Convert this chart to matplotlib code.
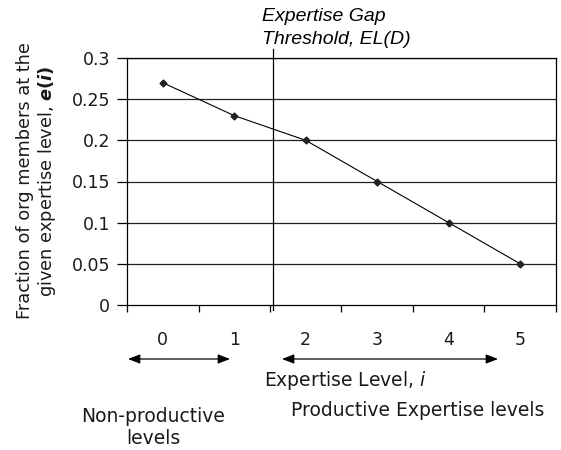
import matplotlib
matplotlib.use("Agg")
import matplotlib.pyplot as plt
import numpy as np

plt.rcParams['font.family'] = ['Liberation Sans', 'DejaVu Sans']

levels = [0, 1, 2, 3, 4, 5]
fraction = [0.27, 0.23, 0.20, 0.15, 0.10, 0.05]
y_ticks = [0, 0.05, 0.1, 0.15, 0.2, 0.25, 0.3]
y_tick_labels = ["0", "0.05", "0.1", "0.15", "0.2", "0.25", "0.3"]
threshold_level = 1.54

W, H = 561, 450
fig = plt.figure(figsize=(W / 100, H / 100), dpi=100)
ax = fig.add_axes([127 / W, 1 - 305 / H, 429 / W, 247 / H])

ax.set_xlim(-0.5, 5.5)
ax.set_ylim(0, 0.3)

wide = "DejaVu Sans"
ink = "#1a1a1a"

# horizontal gridlines
for y in y_ticks[1:]:
    ax.axhline(y, color="#222222", lw=0.9, zorder=1)

ax.plot(levels, fraction, color="black", lw=0.8, marker="D", ms=3.5,
        mfc="#222222", mec="#222222", zorder=3)

# threshold line
ax.plot([threshold_level, threshold_level], [-0.006, 0.311], color="black",
        lw=0.9, clip_on=False, zorder=2)

for s in ax.spines.values():
    s.set_linewidth(0.9)

ax.set_yticks(y_ticks)
ax.set_yticklabels(y_tick_labels, fontsize=12.5, family=wide, color=ink)
ax.tick_params(axis="y", direction="out", length=7, width=0.9, pad=5)

# category boundaries as tick marks, labels at category centres
ax.set_xticks(np.arange(-0.5, 6.0, 1.0))
ax.set_xticklabels([])
ax.tick_params(axis="x", direction="out", length=5, width=0.9)
px = 0.3 / 247
for lv in levels:
    ax.text(lv, -35 * px, str(lv), ha="center", va="center",
            fontsize=12.5, family=wide, color=ink)

fig.text(37 / W, 1 - 181 / H,
         "Fraction of org members at the\ngiven expertise level, $\\boldsymbol{e(i)}$",
         fontsize=12.8, family=wide, rotation=90, ha="center", va="center",
         linespacing=1.15, color=ink)

fig.text(262 / W, 1 - 28 / H, "Expertise Gap\nThreshold, EL(D)", fontsize=14,
         style="italic", ha="left", va="center", linespacing=1.45)

# arrows beneath the axis
y_arrow = 1 - 359 / H
for x0, x1 in [(128, 230), (282, 498)]:
    ax.annotate("", xy=(x0 / W, y_arrow), xytext=(x1 / W, y_arrow),
                xycoords="figure fraction",
                arrowprops=dict(arrowstyle="<|-|>,head_length=0.9,head_width=0.35",
                                color="black", lw=0.9,
                                mutation_scale=8, shrinkA=0, shrinkB=0))

fig.text(345 / W, 1 - 380 / H, "Expertise Level, $\\it{i}$", fontsize=13.5,
         family=wide, ha="center", va="center", color=ink)
fig.text(153 / W, 1 - 427 / H, "Non-productive\nlevels", fontsize=13.5,
         family=wide, ha="center", va="center", linespacing=1.2, color=ink)
fig.text(418 / W, 1 - 410 / H, "Productive Expertise levels", fontsize=13.5,
         family=wide, ha="center", va="center", color=ink)

fig.savefig("out.png", dpi=100)
